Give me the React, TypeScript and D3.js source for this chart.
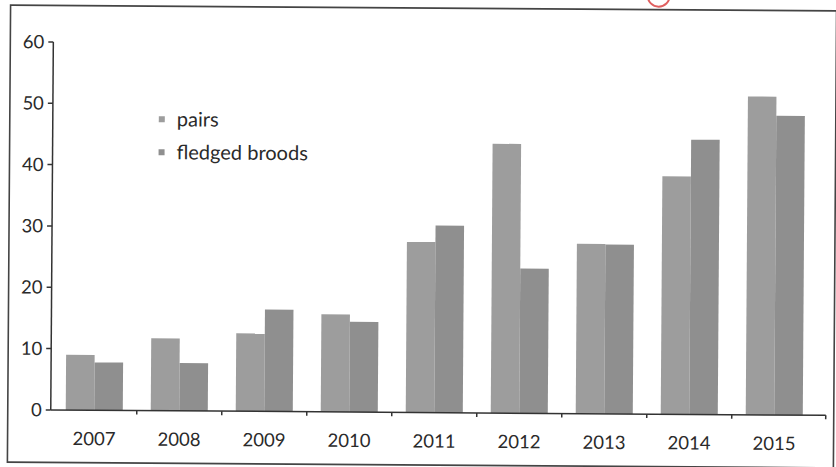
import React from 'react';
import * as d3 from 'd3';

const years = ['2007', '2008', '2009', '2010', '2011', '2012', '2013', '2014', '2015'];
const pairs = [9, 11.8, 12.7, 15.9, 27.8, 43.9, 27.7, 38.8, 51.9];
const fledgedBroods = [7.8, 7.8, 16.6, 14.7, 30.5, 23.6, 27.6, 44.8, 48.8];
const seriesNames = ['pairs', 'fledged broods'];
const yTicks = [0, 10, 20, 30, 40, 50, 60];

const COLORS = ['#9d9d9d', '#8f8f8f'];
const W = 836;
const H = 467;

const App = () => {
  // plot area (before the small scan tilt is applied)
  const left = 52;
  const axisEnd = 827;
  const top = 44.5;
  const bottom = 412.5;

  const x = d3.scaleBand<string>().domain(years).range([53, 818]).paddingInner(0).paddingOuter(0);
  const x1 = d3.scaleBand<string>().domain(seriesNames).range([0, x.bandwidth()]).paddingOuter(0.49).paddingInner(0);
  const y = d3.scaleLinear().domain([0, 60]).range([bottom, top]);

  const rows = years.map((yr, i) => ({ yr, values: [pairs[i], fledgedBroods[i]] }));
  const font = 'Lato, "Open Sans", sans-serif';

  return (
    <svg width={W} height={H} style={{ position: 'absolute', left: 0, top: 0, background: '#fff' }}>
      <g transform={`rotate(0.4, ${W / 2}, ${H / 2})`}>
        {/* frame */}
        <rect x={9} y={8} width={826} height={457} fill="none" stroke="#444" strokeWidth={1.6} />
        {/* red mark at top */}
        <circle cx={657} cy={-6} r={11} fill="none" stroke="#e06060" strokeWidth={2} />

        {/* bars */}
        {rows.map(r => (
          <g key={r.yr} transform={`translate(${x(r.yr)},0)`}>
            {r.values.map((v, j) => (
              <rect
                key={j}
                x={x1(seriesNames[j])}
                y={y(v)}
                width={x1.bandwidth()}
                height={y(0) - y(v)}
                fill={COLORS[j]}
              />
            ))}
          </g>
        ))}

        {/* y axis */}
        <line x1={left} x2={left} y1={y(60)} y2={y(0)} stroke="#333" strokeWidth={1.5} />
        {yTicks.map(t => (
          <g key={t}>
            <line x1={left - 5} x2={left} y1={y(t)} y2={y(t)} stroke="#333" strokeWidth={1.5} />
            <text x={left - 9} y={y(t)} dy="0.35em" textAnchor="end" fontFamily={font} fontSize={18.5} fill="#2a2a2a">
              {t}
            </text>
          </g>
        ))}

        {/* x axis */}
        <line x1={left} x2={axisEnd} y1={y(0)} y2={y(0)} stroke="#333" strokeWidth={1.5} />
        {years.map((yr, i) => (
          <g key={yr}>
            {i < years.length - 1 && (
              <line x1={(x(yr) as number) + x.bandwidth()} x2={(x(yr) as number) + x.bandwidth()} y1={y(0)} y2={y(0) + 4} stroke="#333" strokeWidth={1.5} />
            )}
            <text x={(x(yr) as number) + x.bandwidth() / 2} y={y(0) + 35} textAnchor="middle" fontFamily={font} fontSize={18.5} fill="#2a2a2a">
              {yr}
            </text>
          </g>
        ))}
        <line x1={axisEnd} x2={axisEnd} y1={y(0)} y2={y(0) + 4} stroke="#333" strokeWidth={1.5} />

        {/* legend */}
        {seriesNames.map((s, i) => (
          <g key={s} transform={`translate(158, ${121 + i * 33})`}>
            <rect x={0} y={-3} width={6} height={6} fill={COLORS[i]} />
            <text x={18} y={0} dy="0.35em" fontFamily={font} fontSize={20} fill="#2a2a2a">
              {s}
            </text>
          </g>
        ))}
      </g>
    </svg>
  );
};

export default App;
